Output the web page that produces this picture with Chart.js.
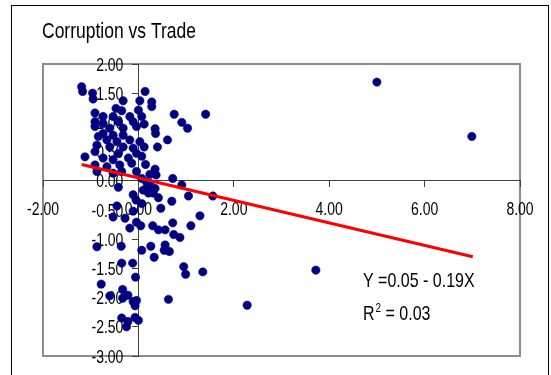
<!DOCTYPE html>
<html>
<head>
<meta charset="utf-8">
<script src="https://cdn.jsdelivr.net/npm/chart.js@4.4.1/dist/chart.umd.min.js"></script>
<style>
body { margin: 0; background: #fff; }
canvas { display: block; }
</style>
</head>
<body>
<canvas id="scatterChart" width="551" height="375"></canvas>
<script>
// values
const tradeX = [
    -1.19, -1.17, -0.96, -0.95, 0.14, 0.03, -0.32, 0.28, 0.28, -0.47,
    -0.35, 0.00, -0.91, -0.74, -0.53, -0.18, 0.07, 0.75, 1.41, 0.91,
    1.03, 0.12, 0.35, 0.36, -0.91, -0.74, -0.42, -0.11, -0.91, -0.60,
    -0.32, -0.04, -0.74, -0.53, -0.32, -0.84, -0.18, -0.66, -0.45, 0.03,
    0.61, -0.87, -0.60, -0.32, -0.11, 0.12, 0.40, -0.91, -0.42, -0.04,
    0.07, -1.12, -0.74, -0.53, -0.21, -0.91, -0.66, -0.39, -0.14, 0.15,
    0.35, -0.87, -0.53, -0.35, -0.04, 0.24, 0.37, 0.72, 0.07, 0.17,
    0.24, 0.91, 0.24, 0.10, 0.17, 0.28, 0.35, 0.21, 0.31, 0.42,
    1.05, 1.56, 0.70, 0.47, 1.29, -0.42, -0.11, -0.05, -0.45, -0.53,
    -0.28, -0.11, 0.07, -0.18, 0.05, -0.04, -0.87, -0.36, 0.07, -0.35,
    -0.12, -0.06, -0.78, -0.60, -0.33, -0.33, -0.22, -0.11, -0.04, -0.07,
    -0.35, -0.22, -0.25, -0.07, 0.00, 0.30, 0.42, 0.56, 0.72, 0.74,
    0.87, 1.10, 0.26, 0.33, 0.56, 0.54, 0.65, 0.95, 0.99, 1.35,
    0.63, 2.28, 3.72, 5.00, 6.99
];
const corruptY = [
    1.61, 1.53, 1.50, 1.40, 1.53, 1.37, 1.37, 1.35, 1.27, 1.24,
    1.20, 1.21, 1.16, 1.10, 1.10, 1.10, 1.10, 1.14, 1.14, 1.00,
    0.90, 0.97, 0.89, 0.81, 1.01, 0.98, 1.01, 1.01, 0.93, 0.90,
    0.90, 0.93, 0.81, 0.78, 0.78, 0.76, 0.70, 0.70, 0.67, 0.67,
    0.70, 0.61, 0.58, 0.58, 0.56, 0.58, 0.58, 0.50, 0.47, 0.47,
    0.42, 0.41, 0.39, 0.36, 0.39, 0.27, 0.24, 0.27, 0.30, 0.28,
    0.20, 0.16, 0.13, 0.16, 0.16, 0.11, 0.10, 0.04, 0.04, -0.02,
    -0.04, -0.07, -0.10, -0.16, -0.13, -0.16, -0.13, -0.21, -0.21, -0.29,
    -0.26, -0.26, -0.35, -0.47, -0.60, -0.11, -0.24, -0.33, -0.43, -0.62,
    -0.64, -0.52, -0.39, -0.81, -0.77, -0.71, -1.13, -1.12, -1.19, -1.41,
    -1.41, -1.65, -1.77, -1.97, -1.86, -2.01, -1.96, -2.07, -2.05, -2.14,
    -2.35, -2.41, -2.50, -2.34, -2.39, -0.77, -0.84, -0.84, -0.72, -0.92,
    -0.97, -0.77, -1.12, -1.31, -1.10, -1.19, -1.21, -1.47, -1.60, -1.56,
    -2.03, -2.13, -1.53, 1.69, 0.76
];
// trend line ends
const trendX = [-1.19, 7.01];
const trendY = [0.28, -1.30];

const chartTitle = 'Corruption vs Trade';
const eqText = 'Y =0.05 - 0.19X';
const r2Text = ' = 0.03';

const FONT = '"Liberation Sans", Arial, sans-serif';

// the old picture is a bit taller than wide, so stretch the text the same way
function tallText(ctx, txt, x, y, sy) {
    ctx.save();
    ctx.translate(x, y);
    ctx.scale(1, sy);
    ctx.fillText(txt, 0, 0);
    ctx.restore();
}

const excelLook = {
    id: 'excelLook',
    beforeDraw(chart) {
        const ctx = chart.ctx;
        const a = chart.chartArea;
        ctx.save();
        ctx.fillStyle = '#fff';
        ctx.fillRect(0, 0, chart.width, chart.height);
        // outer frame
        ctx.strokeStyle = '#000';
        ctx.lineWidth = 1;
        ctx.strokeRect(11.5, 5.5, 537, 420);
        // plot area box
        ctx.strokeStyle = '#8c8c8c';
        ctx.lineWidth = 2;
        ctx.strokeRect(a.left, a.top, a.right - a.left, a.bottom - a.top);
        ctx.restore();
    },
    beforeDatasetsDraw(chart) {
        // tick labels, under the dots like in the original
        const ctx = chart.ctx;
        const xs = chart.scales.x;
        const ys = chart.scales.y;
        const x0 = xs.getPixelForValue(0);
        const y0 = ys.getPixelForValue(0);
        ctx.save();
        ctx.fillStyle = '#000';
        ctx.font = '14px ' + FONT;
        ctx.textAlign = 'center';
        xs.ticks.forEach(t => {
            tallText(ctx, t.value.toFixed(2), xs.getPixelForValue(t.value), y0 + 34, 1.33);
        });
        ctx.textAlign = 'right';
        ys.ticks.forEach(t => {
            tallText(ctx, t.value.toFixed(2), x0 - 15, ys.getPixelForValue(t.value) + 6.5, 1.33);
        });
        ctx.restore();
    },
    afterDraw(chart) {
        const ctx = chart.ctx;
        ctx.save();
        ctx.fillStyle = '#000';
        ctx.textAlign = 'left';
        ctx.font = '17.5px ' + FONT;
        tallText(ctx, chartTitle, 42, 38, 1.23);

        ctx.font = '16px ' + FONT;
        tallText(ctx, eqText, 363, 287, 1.3);
        tallText(ctx, 'R', 363, 320, 1.3);
        let w = ctx.measureText('R').width;
        ctx.font = '10px ' + FONT;
        tallText(ctx, '2', 363 + w + 1, 311.5, 1.3);
        let w2 = ctx.measureText('2').width;
        ctx.font = '16px ' + FONT;
        tallText(ctx, r2Text, 363 + w + 1 + w2, 320, 1.3);
        ctx.restore();
    }
};

const axisGrid = {
    drawOnChartArea: false,
    drawTicks: true,
    tickLength: 6,
    color: '#404040',
    lineWidth: 1
};

const config = {
    type: 'scatter',
    data: {
        datasets: [{
            type: 'line',
            label: 'Trend',
            data: trendX.map((x, i) => ({ x: x, y: trendY[i] })),
            borderColor: '#ff0000',
            borderWidth: 3,
            pointRadius: 0,
            fill: false,
            tension: 0
        }, {
            label: 'Countries',
            data: tradeX.map((x, i) => ({ x: x, y: corruptY[i] })),
            backgroundColor: '#000080',
            borderColor: '#000080',
            borderWidth: 0.5,
            pointRadius: 4.2,
            pointHoverRadius: 4.2
        }]
    },
    options: {
        responsive: false,
        animation: false,
        layout: {
            padding: { left: 43, right: 31, top: 64, bottom: 19 }
        },
        plugins: {
            legend: { display: false },
            tooltip: { enabled: false }
        },
        scales: {
            x: {
                type: 'linear',
                min: -2,
                max: 8,
                position: { y: 0 },
                ticks: { stepSize: 2, display: false },
                grid: axisGrid,
                border: { color: '#404040', width: 1 }
            },
            y: {
                type: 'linear',
                min: -3,
                max: 2,
                position: { x: 0 },
                ticks: { stepSize: 0.5, display: false },
                grid: axisGrid,
                border: { color: '#404040', width: 1 }
            }
        }
    },
    plugins: [excelLook]
};

const scatter = new Chart(
    document.getElementById('scatterChart'),
    config
);
</script>
</body>
</html>
